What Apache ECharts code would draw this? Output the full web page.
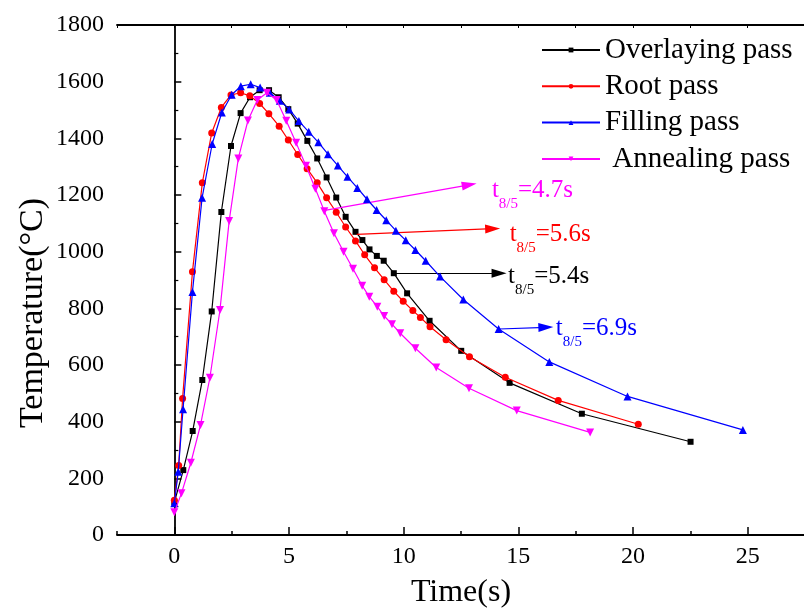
<!DOCTYPE html>
<html><head><meta charset="utf-8">
<script src="https://cdn.jsdelivr.net/npm/echarts@6/dist/echarts.min.js"></script>
<style>html,body{margin:0;padding:0;background:#fff}#c{width:804px;height:610px}</style>
</head><body><div id="c"></div>
<script>
// ---- data ----
const seriesNames = ['Overlaying pass', 'Root pass', 'Filling pass', ' Annealing pass'];
const overlayingTime = [0,0.39,0.80,1.22,1.63,2.05,2.47,2.89,3.30,3.72,4.13,4.55,4.97,5.38,5.80,6.23,6.64,7.06,7.47,7.90,8.20,8.51,8.83,9.13,9.57,10.15,11.13,12.51,14.62,17.77,22.51];
const overlayingTemp = [115,229,367,547,789,1140,1373,1489,1545,1570,1570,1545,1503,1452,1391,1329,1262,1191,1123,1070,1041,1008,985,968,924,853,756,650,537,428,329];
const rootTime = [0,0.19,0.36,0.79,1.22,1.63,2.05,2.47,2.89,3.29,3.72,4.12,4.57,4.97,5.38,5.79,6.23,6.64,7.06,7.47,7.90,8.30,8.73,9.15,9.57,9.98,10.40,10.73,11.15,11.85,12.87,14.43,16.74,20.23];
const rootTemp = [123,245,482,929,1243,1419,1509,1553,1561,1550,1523,1487,1443,1394,1343,1293,1243,1190,1139,1087,1038,989,943,901,860,825,792,768,735,689,629,557,475,391];
const fillingTime = [0,0.17,0.38,0.79,1.21,1.65,2.07,2.50,2.90,3.33,3.74,4.16,4.60,5.01,5.43,5.86,6.28,6.70,7.13,7.55,7.98,8.40,8.82,9.24,9.66,10.09,10.51,10.96,11.59,12.60,14.14,16.35,19.76,24.79];
const fillingTemp = [112,223,444,858,1190,1380,1491,1554,1584,1591,1579,1561,1533,1502,1461,1423,1386,1344,1304,1264,1225,1185,1147,1111,1074,1040,1006,968,912,831,727,611,489,371];
const annealingTime = [0,0.31,0.72,1.14,1.55,1.99,2.39,2.79,3.21,3.62,4.04,4.46,4.88,5.31,5.74,6.15,6.54,6.96,7.38,7.79,8.19,8.50,8.85,9.15,9.49,9.85,10.51,11.42,12.85,14.93,18.13];
const annealingTemp = [80,147,255,388,555,794,1108,1329,1463,1535,1561,1535,1462,1384,1303,1222,1143,1065,1000,940,880,841,806,773,744,712,659,591,518,439,362];
const xTickLabels = [0,5,10,15,20,25];
const yTickLabels = [0,200,400,600,800,1000,1200,1400,1600,1800];
// annotation arrows: [startTime, startTemp, endTime, endTemp]
const annoOverlaying = [9.62, 924, 14.16, 924];
const annoRoot = [7.95, 1061, 13.88, 1081];
const annoFilling = [14.17, 727, 16.20, 733];
const annoAnnealing = [6.50, 1145, 12.86, 1236];
const annoText = ['5.4s', '5.6s', '6.9s', '4.7s'];

// ---- build ----
const colors = ['#000000', '#ff0000', '#0000ff', '#ff00ff'];
const symbols = ['rect', 'circle', 'triangle', 'triangle'];
const symbolSizes = [6, 7, 8, 8];
const symbolRotates = [0, 0, 0, 180];
const labelGap = [9, 17, 10, 23];
const labelDy = [4.5, 8, 3, 11];
const times = [overlayingTime, rootTime, fillingTime, annealingTime];
const temps = [overlayingTemp, rootTemp, fillingTemp, annealingTemp];
const annos = [annoOverlaying, annoRoot, annoFilling, annoAnnealing];
const FONT = '"Liberation Serif", "Times New Roman", serif';

const series = seriesNames.map((name, i) => {
  const c = colors[i];
  const a = annos[i];
  return {
    name: name,
    type: 'line',
    data: times[i].map((t, k) => [t, temps[i][k]]),
    symbol: symbols[i],
    symbolSize: symbolSizes[i],
    symbolRotate: symbolRotates[i],
    showAllSymbol: true,
    lineStyle: { color: c, width: 1.2 },
    itemStyle: { color: c },
    z: 3 + i,
    markLine: {
      silent: true,
      symbol: ['none', 'triangle'],
      symbolSize: [9, 15],
      animation: false,
      lineStyle: { color: c, width: 1.2, type: 'solid' },
      label: {
        show: true,
        position: 'end',
        distance: labelGap[i],
        offset: [0, labelDy[i]],
        formatter: '{m|t}{s|8/5}{m|=' + annoText[i] + '}',
        rich: {
          m: { fontFamily: FONT, fontSize: 25, color: c, lineHeight: 28, verticalAlign: 'top' },
          s: { fontFamily: FONT, fontSize: 15, color: c, lineHeight: 15, padding: [19, 0, 0, 0], verticalAlign: 'top' }
        }
      },
      data: [[{ coord: [a[0], a[1]] }, { coord: [a[2], a[3]] }]]
    }
  };
});

const chart = echarts.init(document.getElementById('c'), null, { renderer: 'canvas' });
chart.setOption({
  animation: false,
  backgroundColor: '#ffffff',
  grid: { left: 117, top: 25, width: 688, height: 510, containLabel: false, outerBoundsMode: 'none' },
  legend: {
    orient: 'vertical',
    left: 541,
    top: 34,
    padding: 0,
    itemWidth: 58,
    itemHeight: 6,
    itemGap: 4.3,
    data: seriesNames,
    textStyle: { fontFamily: FONT, fontSize: 29, color: '#000', lineHeight: 32 }
  },
  xAxis: [
    {
      type: 'value', min: -2.5, max: 27.5, interval: 2.5, position: 'bottom',
      axisLine: { show: true, lineStyle: { color: '#000', width: 1.8 } },
      axisTick: { show: true, inside: true, length: 8, customValues: xTickLabels, lineStyle: { color: '#000', width: 1.5 } },
      axisLabel: { show: true, customValues: xTickLabels, margin: 10, fontFamily: FONT, fontSize: 24, color: '#000' },
      splitLine: { show: false },
      name: 'Time(s)', nameLocation: 'middle', nameGap: 42,
      nameTextStyle: { fontFamily: FONT, fontSize: 32, color: '#000' }
    },
    {
      type: 'value', min: -2.5, max: 27.5, interval: 2.5, position: 'bottom',
      axisLine: { show: false },
      axisTick: { show: true, inside: true, length: 4, lineStyle: { color: '#000', width: 1.5 } },
      axisLabel: { show: false },
      splitLine: { show: false }
    },
    {
      type: 'value', min: -2.5, max: 27.5, interval: 2.5, position: 'top',
      axisLine: { show: true, lineStyle: { color: '#000', width: 1.8 } },
      axisTick: { show: true, inside: true, length: 3, lineStyle: { color: '#000', width: 1 } },
      axisLabel: { show: false },
      splitLine: { show: false }
    }
  ],
  yAxis: [{
    type: 'value', min: 0, max: 1800, interval: 200,
    axisLine: { show: true, lineStyle: { color: '#000', width: 1.8 } },
    axisTick: { show: true, inside: true, length: 7, lineStyle: { color: '#000', width: 1.5 } },
    minorTick: { show: true, splitNumber: 2, length: 4, lineStyle: { color: '#000', width: 1.2 } },
    axisLabel: { margin: 13, fontFamily: FONT, fontSize: 24, color: '#000',
      formatter: v => (yTickLabels.indexOf(v) >= 0 ? String(v) : '') },
    splitLine: { show: false }
  }],
  graphic: [{
    type: 'text', x: 33, y: 313, rotation: Math.PI / 2,
    style: { text: 'Temperature(°C)', font: '34px ' + FONT, fill: '#000', align: 'center', verticalAlign: 'middle' }
  }],
  series: series
});
</script></body></html>
